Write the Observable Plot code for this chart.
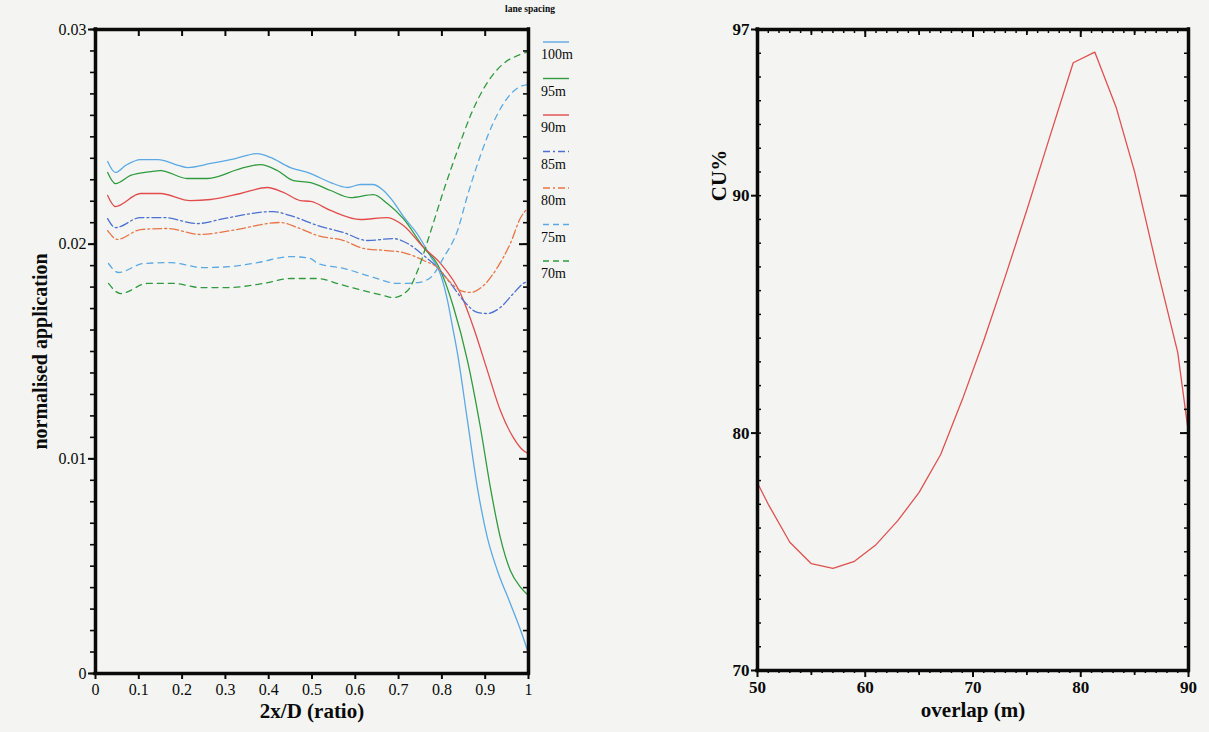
<!DOCTYPE html>
<html>
<head>
<meta charset="utf-8">
<script src="https://cdn.jsdelivr.net/npm/d3@7"></script>
<script src="https://cdn.jsdelivr.net/npm/@observablehq/plot@0.6"></script>
<style>
  html, body { margin: 0; padding: 0; }
  body { width: 1209px; height: 732px; overflow: hidden; position: relative; background: #f4f5f2; font-family: "Liberation Serif", "DejaVu Serif", serif; }
  #left { position: absolute; left: 0; top: 0; }
  #right { position: absolute; left: 700px; top: 0; }
  #legend { position: absolute; left: 495px; top: 0; }
</style>
</head>
<body>
<div id="left"></div>
<div id="right"></div>
<div id="legend"></div>
<script>
// ---------- DATA ----------
// Left chart: normalised application vs 2x/D for each lane spacing
const xTicksL = [0, 0.1, 0.2, 0.3, 0.4, 0.5, 0.6, 0.7, 0.8, 0.9, 1];
const xTickLabelsL = ["0", "0.1", "0.2", "0.3", "0.4", "0.5", "0.6", "0.7", "0.8", "0.9", "1"];
const yTicksL = [0, 0.01, 0.02, 0.03];
const yTickLabelsL = ["0", "0.01", "0.02", "0.03"];
const laneNames = ["100m", "95m", "90m", "85m", "80m", "75m", "70m"];
const legendTitle = "lane spacing";

const lane100 = [[0.028,0.02385],[0.046,0.02334],[0.069,0.02366],[0.104,0.02394],[0.145,0.02394],[0.185,0.02371],[0.212,0.02357],[0.266,0.02376],[0.323,0.02399],[0.374,0.02422],[0.404,0.02404],[0.450,0.02357],[0.497,0.02329],[0.543,0.02287],[0.582,0.02264],[0.612,0.02278],[0.640,0.02278],[0.663,0.02254],[0.686,0.02203],[0.711,0.02129],[0.744,0.02045],[0.774,0.01942],[0.797,0.01859],[0.813,0.01737],[0.824,0.01621],[0.836,0.01491],[0.859,0.01178],[0.882,0.00866],[0.905,0.00633],[0.928,0.00480],[0.958,0.00326],[0.982,0.00200],[1.0,0.00093]];
const lane95 = [[0.028,0.02334],[0.046,0.02282],[0.081,0.02320],[0.127,0.02338],[0.150,0.02343],[0.212,0.02306],[0.259,0.02306],[0.335,0.02352],[0.381,0.02371],[0.420,0.02343],[0.457,0.02296],[0.497,0.02287],[0.543,0.02250],[0.589,0.02217],[0.642,0.02231],[0.674,0.02189],[0.711,0.02119],[0.758,0.01984],[0.790,0.01905],[0.827,0.01705],[0.859,0.01458],[0.889,0.01146],[0.912,0.00866],[0.935,0.00633],[0.958,0.00480],[0.982,0.00401],[1.0,0.00363]];
const lane90 = [[0.028,0.02227],[0.046,0.02175],[0.104,0.02236],[0.150,0.02236],[0.219,0.02203],[0.266,0.02208],[0.335,0.02236],[0.397,0.02264],[0.434,0.02241],[0.473,0.02203],[0.497,0.02199],[0.543,0.02157],[0.612,0.02115],[0.674,0.02124],[0.711,0.02087],[0.758,0.01984],[0.797,0.01910],[0.843,0.01770],[0.873,0.01612],[0.905,0.01411],[0.935,0.01225],[0.965,0.01099],[0.988,0.01039],[1.0,0.01025]];
const lane85 = [[0.028,0.02119],[0.046,0.02077],[0.104,0.02124],[0.157,0.02124],[0.236,0.02096],[0.296,0.02119],[0.411,0.02152],[0.450,0.02133],[0.513,0.02087],[0.573,0.02054],[0.628,0.02017],[0.688,0.02026],[0.721,0.02003],[0.758,0.01947],[0.790,0.01891],[0.820,0.01817],[0.850,0.01737],[0.882,0.01682],[0.905,0.01677],[0.935,0.01705],[0.965,0.01770],[0.988,0.01817],[1.0,0.01826]];
const lane80 = [[0.028,0.02063],[0.051,0.02022],[0.104,0.02068],[0.166,0.02073],[0.242,0.02045],[0.312,0.02063],[0.427,0.02101],[0.467,0.02077],[0.513,0.02040],[0.573,0.02017],[0.619,0.01980],[0.674,0.01970],[0.711,0.01961],[0.758,0.01924],[0.790,0.01891],[0.820,0.01821],[0.843,0.01784],[0.866,0.01775],[0.896,0.01807],[0.928,0.01891],[0.958,0.02003],[0.982,0.02124],[1.0,0.02171]];
const lane75 = [[0.030,0.01910],[0.053,0.01868],[0.111,0.01910],[0.173,0.01914],[0.249,0.01891],[0.312,0.01896],[0.374,0.01914],[0.450,0.01942],[0.497,0.01933],[0.513,0.01910],[0.573,0.01887],[0.642,0.01845],[0.697,0.01817],[0.744,0.01821],[0.774,0.01845],[0.804,0.01938],[0.836,0.02063],[0.859,0.02226],[0.889,0.02413],[0.919,0.02567],[0.952,0.02683],[0.977,0.02730],[1.0,0.02744]];
const lane70 = [[0.030,0.01817],[0.058,0.01770],[0.120,0.01817],[0.180,0.01817],[0.242,0.01798],[0.305,0.01798],[0.388,0.01817],[0.450,0.01840],[0.513,0.01840],[0.566,0.01812],[0.619,0.01784],[0.665,0.01761],[0.688,0.01751],[0.721,0.01784],[0.744,0.01877],[0.774,0.02059],[0.804,0.02250],[0.836,0.02436],[0.866,0.02599],[0.905,0.02753],[0.942,0.02841],[0.975,0.02879],[1.0,0.02897]];

// Right chart: CU% vs overlap
const overlap = [50, 51, 53, 55, 57, 59, 61, 63, 65, 67, 69, 71, 73, 75, 77, 79.3, 81.3, 83.3, 85, 87, 89, 90];
const cuPct   = [77.9, 77.0, 75.4, 74.5, 74.3, 74.6, 75.3, 76.3, 77.5, 79.1, 81.4, 83.9, 86.6, 89.4, 92.3, 95.6, 96.05, 93.7, 91.0, 87.1, 83.4, 80.0];
const xTicksR = [50, 60, 70, 80, 90];
const yTicksR = [70, 80, 90, 97];

// ---------- STYLES ----------
const laneData = [lane100, lane95, lane90, lane85, lane80, lane75, lane70];
const laneStroke = ["#5ba8e4", "#2f9a3e", "#e24c4c", "#4b6fd2", "#ea7446", "#5ba8e4", "#2f9a3e"];
const laneDash = [null, null, null, "9,3,2,3", "9,3,2,3", "6,5", "6,5"];

const font = "'Liberation Serif', 'Times New Roman', serif";
const ink = "#0a0a0a";

// ---------- LEFT CHART ----------
const LW = 545, LH = 732, LML = 95, LMR = 17, LMT = 29, LMB = 59;
const lfw = LW - LML - LMR, lfh = LH - LMT - LMB;
const xLabMapL = new Map(xTicksL.map((t, i) => [t, xTickLabelsL[i]]));
const yLabMapL = new Map(yTicksL.map((t, i) => [t, yTickLabelsL[i]]));
const minorYL = d3.range(0, 31).map(i => i / 1000);
const kxL = 1 / lfw, kyL = 0.03 / lfh;   // data units per pixel

const laneMarks = laneData.map((arr, i) => Plot.line(arr, {
  x: d => d[0], y: d => d[1], curve: "monotone-x",
  stroke: laneStroke[i], strokeWidth: 1.3, strokeDasharray: laneDash[i]
}));

const leftPlot = Plot.plot({
  width: LW, height: LH,
  marginLeft: LML, marginRight: LMR, marginTop: LMT, marginBottom: LMB,
  x: {domain: [0, 1]},
  y: {domain: [0, 0.03]},
  style: {fontFamily: font, fontSize: "16px", background: "transparent", color: ink, overflow: "visible"},
  marks: [
    ...laneMarks,
    Plot.axisX(xTicksL, {tickSize: 6, tickPadding: 4, tickFormat: d => xLabMapL.get(d), label: null, fontSize: 16, strokeWidth: 2}),
    Plot.axisY(yTicksL, {tickSize: 7, tickPadding: 2, tickFormat: d => yLabMapL.get(d), label: null, fontSize: 16, strokeWidth: 2}),
    Plot.ruleY(minorYL, {y: d => d, x1: -5 * kxL, x2: 0, stroke: ink, strokeWidth: 1.6}),
    Plot.ruleY(minorYL, {y: d => d, x1: 1 - 5 * kxL, x2: 1, stroke: ink, strokeWidth: 1.6}),
    Plot.ruleY(yTicksL, {y: d => d, x1: 1 - 9 * kxL, x2: 1, stroke: ink, strokeWidth: 2}),
    Plot.ruleX(xTicksL, {x: d => d, y1: 0.03 - 7 * kyL, y2: 0.03, stroke: ink, strokeWidth: 2}),
    Plot.ruleX([0, 1], {x: d => d, y1: 0, y2: 0.03, stroke: ink, strokeWidth: 3.5, strokeLinecap: "square"}),
    Plot.ruleY([0, 0.03], {y: d => d, x1: 0, x2: 1, stroke: ink, strokeWidth: 3.5, strokeLinecap: "square"}),
    Plot.text(["normalised application"], {frameAnchor: "left", textAnchor: "middle", dx: -55, rotate: -90, text: d => d, fontWeight: "bold", fontSize: 20, fill: ink}),
    Plot.text(["2x/D (ratio)"], {frameAnchor: "bottom", textAnchor: "middle", dy: 44, text: d => d, fontWeight: "bold", fontSize: 21, fill: ink})
  ]
});
document.getElementById("left").appendChild(leftPlot);

// ---------- RIGHT CHART ----------
const RW = 509, RH = 732, RML = 57, RMR = 21, RMT = 29, RMB = 62;
const rfw = RW - RML - RMR, rfh = RH - RMT - RMB;
const cuRows = overlap.map((o, i) => ({overlap: o, cu: cuPct[i]}));
const minorXR = d3.range(50, 91);
const midXR = [55, 65, 75, 85];
const minorYR = d3.range(70, 98);
const kxR = 40 / rfw, kyR = 27 / rfh;

const rightPlot = Plot.plot({
  width: RW, height: RH,
  marginLeft: RML, marginRight: RMR, marginTop: RMT, marginBottom: RMB,
  x: {domain: [50, 90]},
  y: {domain: [70, 97]},
  style: {fontFamily: font, fontSize: "16px", background: "transparent", color: ink, overflow: "visible"},
  marks: [
    Plot.line(cuRows, {x: "overlap", y: "cu", stroke: "#e0504f", strokeWidth: 1.3}),
    Plot.axisX(xTicksR, {tickSize: 7, tickPadding: 3, tickFormat: d => String(d), label: null, fontSize: 17, fontWeight: "bold", strokeWidth: 2}),
    Plot.axisY(yTicksR, {tickSize: 6, tickPadding: 2, tickFormat: d => String(d), label: null, fontSize: 17, fontWeight: "bold", strokeWidth: 2}),
    Plot.ruleX(minorXR, {x: d => d, y1: 70 - 3 * kyR, y2: 70, stroke: ink, strokeWidth: 1.5}),
    Plot.ruleX(midXR, {x: d => d, y1: 70 - 5 * kyR, y2: 70, stroke: ink, strokeWidth: 1.8}),
    Plot.ruleX(minorXR, {x: d => d, y1: 97 - 4 * kyR, y2: 97, stroke: ink, strokeWidth: 1.5}),
    Plot.ruleX(midXR, {x: d => d, y1: 97 - 6 * kyR, y2: 97, stroke: ink, strokeWidth: 1.8}),
    Plot.ruleX(xTicksR, {x: d => d, y1: 97 - 8 * kyR, y2: 97, stroke: ink, strokeWidth: 2}),
    Plot.ruleY(minorYR, {y: d => d, x1: 50, x2: 50 + 4 * kxR, stroke: ink, strokeWidth: 1.5}),
    Plot.ruleY(minorYR, {y: d => d, x1: 90 - 4 * kxR, x2: 90, stroke: ink, strokeWidth: 1.5}),
    Plot.ruleY([70, 80, 90], {y: d => d, x1: 90 - 8 * kxR, x2: 90, stroke: ink, strokeWidth: 2}),
    Plot.ruleX([50, 90], {x: d => d, y1: 70, y2: 97, stroke: ink, strokeWidth: 3.5, strokeLinecap: "square"}),
    Plot.ruleY([70, 97], {y: d => d, x1: 50, x2: 90, stroke: ink, strokeWidth: 3.5, strokeLinecap: "square"}),
    Plot.text(["CU%"], {frameAnchor: "top-left", textAnchor: "middle", dx: -46, dy: 146, rotate: -90, text: d => d, fontWeight: "bold", fontSize: 21, fill: ink}),
    Plot.text(["overlap (m)"], {frameAnchor: "bottom", textAnchor: "middle", dy: 46, text: d => d, fontWeight: "bold", fontSize: 21, fill: ink})
  ]
});
document.getElementById("right").appendChild(rightPlot);

// ---------- LEGEND ----------
const lg = d3.select("#legend").append("svg").attr("width", 100).attr("height", 290)
  .style("font-family", font).style("overflow", "visible");
lg.append("text").attr("x", 35).attr("y", 12).attr("text-anchor", "middle")
  .attr("font-size", 9.5).attr("font-weight", "bold").attr("fill", ink).text(legendTitle);
laneNames.forEach((name, i) => {
  const ly = 42 + i * 36.5;
  lg.append("line").attr("x1", 48).attr("x2", 74).attr("y1", ly).attr("y2", ly)
    .attr("stroke", laneStroke[i]).attr("stroke-width", 1.4)
    .attr("stroke-dasharray", laneDash[i] ? (i >= 5 ? "6,4" : "7,3,2,3") : null);
  lg.append("text").attr("x", 46).attr("y", ly + 13).attr("dy", "0.32em")
    .attr("font-size", 14).attr("fill", ink).text(name);
});
</script>
</body>
</html>
